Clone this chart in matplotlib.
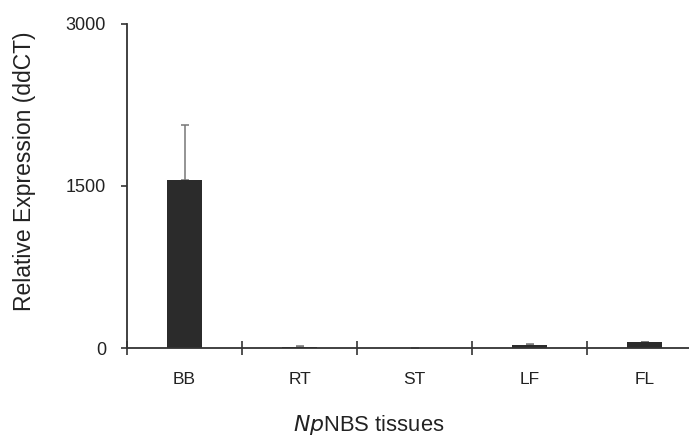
import matplotlib
matplotlib.use("Agg")
import matplotlib.pyplot as plt
import numpy as np

categories = ["BB", "RT", "ST", "LF", "FL"]
values = [1555, 12, 2, 28, 55]
errors = [510, 3, 1, 8, 4]
yticks = [0, 1500, 3000]

plt.rcParams['font.family'] = ['Liberation Sans', 'DejaVu Sans']

W, H = 689, 436
fig = plt.figure(figsize=(W / 100, H / 100), dpi=100)
ax = fig.add_axes([127 / W, 1 - 348 / H, 575 / W, 324 / H])

x = np.arange(len(categories))
ax.bar(x, values, width=0.31, color="#2b2b2b", zorder=2)
ax.errorbar(x, values, yerr=[np.zeros(len(errors)), errors], fmt="none",
            ecolor="#777777", elinewidth=1.1, capsize=2.6, capthick=1.1, zorder=1)

ax.set_xlim(-0.5, len(categories) - 0.5)
ax.set_ylim(0, 3000)
ax.set_yticks(yticks)
ax.set_yticklabels([str(v) for v in yticks], fontsize=13, color="#222222")

ax.set_xticks(np.arange(len(categories) + 1) - 0.5)
ax.set_xticklabels([])
ax.set_xticks(x, minor=True)
ax.set_xticklabels(categories, minor=True, fontsize=12.5, color="#222222")
ax.tick_params(axis="x", which="major", direction="inout", length=10, width=1.2, color="#333333")
ax.tick_params(axis="x", which="minor", length=0, pad=17)
ax.tick_params(axis="y", direction="out", length=4.5, width=1.2, color="#333333", pad=10.5)

for s in ["top", "right"]:
    ax.spines[s].set_visible(False)
for s in ["left", "bottom"]:
    ax.spines[s].set_color("#333333")
    ax.spines[s].set_linewidth(1.3)

fig.text(25 / W, 1 - 171 / H, "Relative Expression (ddCT)", rotation=90,
         ha="center", va="center", fontsize=16.5, color="#222222")
fig.text(369 / W, 1 - 431 / H, r"$\it{Np}$NBS tissues", ha="center", va="baseline",
         fontsize=15.8, color="#222222")

fig.savefig("out.png", dpi=100)
